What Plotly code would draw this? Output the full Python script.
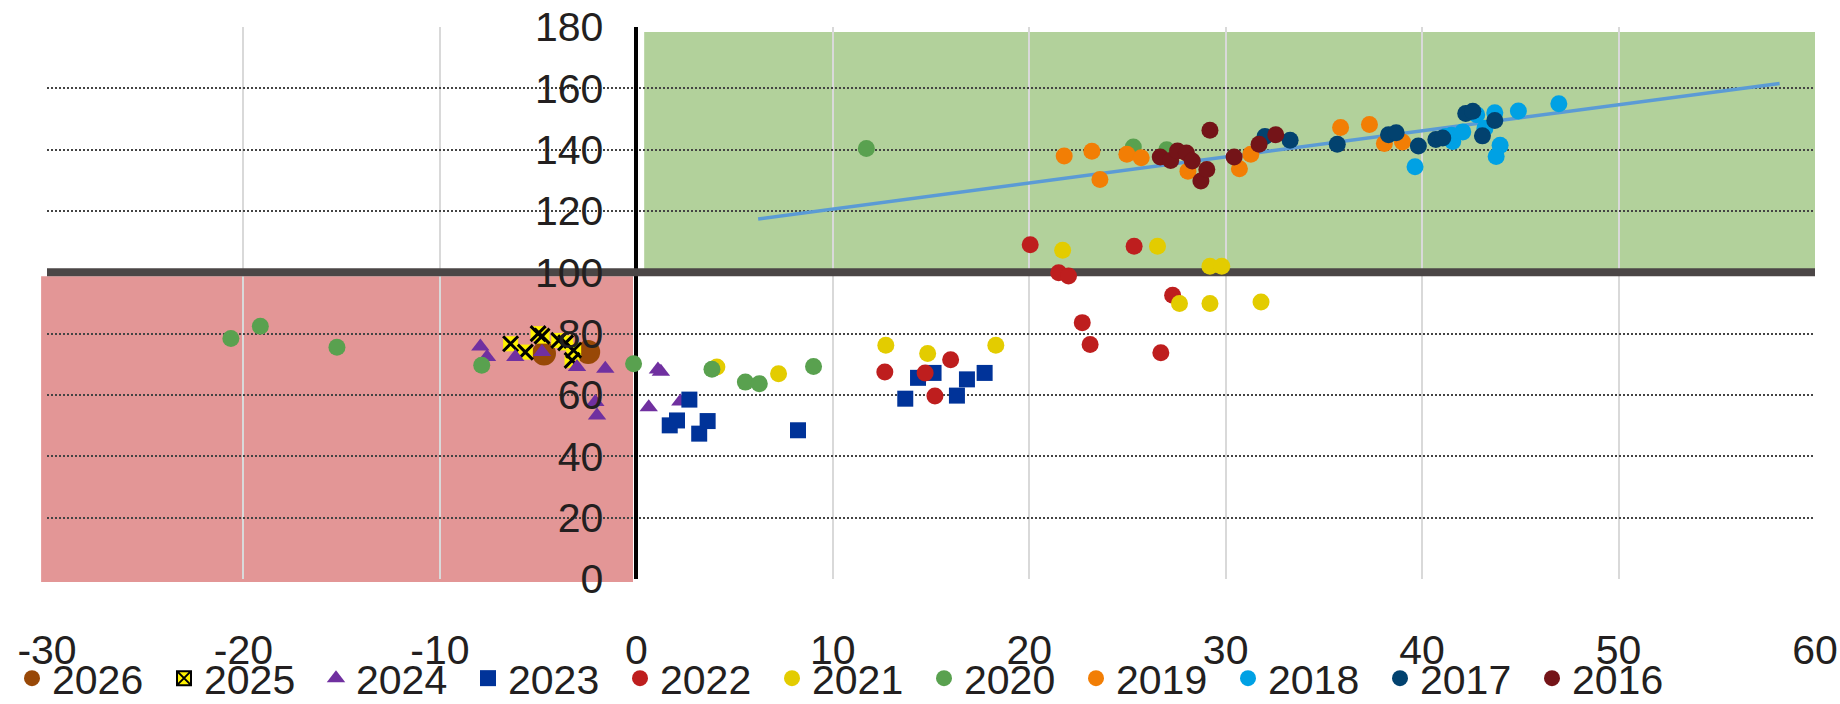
import plotly.graph_objects as go

# ---- axes -------------------------------------------------------------
x_ticks = [-30, -20, -10, 0, 10, 20, 30, 40, 50, 60]
x_tick_labels = ["-30", "-20", "-10", "0", "10", "20", "30", "40", "50", "60"]
y_ticks = [0, 20, 40, 60, 80, 100, 120, 140, 160, 180]
y_tick_labels = ["0", "20", "40", "60", "80", "100", "120", "140", "160", "180"]
X_RANGE = [-30, 60]
Y_RANGE = [0, 180]

# ---- series (x, y) per year ---------------------------------------------
x_2026 = [-4.7, -2.45]
y_2026 = [73.5, 74.0]

x_2025 = [-6.4, -5.65, -5.0, -4.8, -3.95, -3.6, -3.19, -3.27]
y_2025 = [76.7, 74.0, 80.0, 79.2, 77.8, 77.0, 74.6, 71.3]

x_2024 = [-7.94, -7.6, -6.16, -4.8, -3.02, -1.58, -2.09, -2.0, 1.1, 1.25, 0.63, 2.24]
y_2024 = [75.8, 72.4, 72.4, 74.0, 69.1, 68.6, 57.7, 53.3, 68.3, 67.6, 56.0, 57.9]

x_2023 = [1.7, 2.07, 2.7, 3.2, 3.63, 8.23, 13.69, 14.34, 15.13, 16.32, 16.83, 17.73]
y_2023 = [50.1, 51.7, 58.5, 47.4, 51.5, 48.5, 58.8, 65.6, 67.2, 59.8, 65.1, 67.2]

x_2022 = [12.65, 14.7, 15.2, 16.0, 20.05, 21.5, 22.0, 22.7, 23.1, 25.34, 26.7, 27.3]
y_2022 = [67.5, 67.2, 59.7, 71.5, 109.0, 99.9, 98.8, 83.6, 76.5, 108.5, 73.8, 92.5]

x_2021 = [4.1, 7.24, 12.7, 14.83, 18.3, 21.7, 26.53, 27.65, 29.2, 29.2, 29.8, 31.8]
y_2021 = [69.1, 66.9, 76.2, 73.5, 76.2, 107.2, 108.5, 89.8, 89.8, 102.0, 102.0, 90.3]

x_2020 = [-20.64, -19.14, -15.24, -7.87, -0.14, 3.85, 5.55, 6.26, 9.02, 11.71, 25.3, 27.0]
y_2020 = [78.4, 82.4, 75.6, 69.7, 70.2, 68.4, 64.2, 63.7, 69.3, 140.4, 140.9, 140.0]

x_2019 = [21.78, 23.19, 23.6, 24.97, 25.7, 28.08, 30.7, 31.28, 35.85, 37.32, 38.08, 39.0]
y_2019 = [137.9, 139.5, 130.3, 138.5, 137.4, 133.0, 133.8, 138.5, 147.2, 148.2, 142.0, 142.5]

x_2018 = [39.64, 41.2, 41.56, 41.5, 42.07, 42.78, 43.2, 43.7, 43.97, 43.77, 44.9, 46.96]
y_2018 = [134.4, 144.3, 142.7, 144.7, 145.8, 151.4, 147.0, 152.0, 141.4, 137.8, 152.6, 155.0]

x_2017 = [32.0, 33.28, 35.68, 38.29, 38.68, 39.81, 40.7, 41.05, 42.22, 42.58, 43.07, 43.7]
y_2017 = [144.3, 143.1, 141.8, 144.9, 145.5, 141.2, 143.3, 143.8, 151.8, 152.5, 144.5, 149.5]

x_2016 = [26.67, 27.2, 27.55, 28.0, 28.3, 28.74, 29.04, 29.2, 30.43, 31.7, 32.55]
y_2016 = [137.6, 136.5, 139.6, 138.9, 136.3, 129.8, 133.5, 146.3, 137.6, 141.8, 144.9]

# linear trend through the upper cluster
trend_x = [6.2, 58.2]
trend_y = [117.4, 161.6]

# ---- styling ------------------------------------------------------------
FONT = "Liberation Sans, Arial, sans-serif"
TEXT = "#231f20"
FS = 41

W, H = 1840, 704
ML, MR, MT, MB = 47, 0, 27, 125
PLOT_W = 1768                     # width of the data area in px
X_DOMAIN_END = PLOT_W / (W - ML - MR)

styles = {
    "2026": dict(color="#984807", symbol="circle", size=24),
    "2024": dict(color="#7030a0", symbol="triangle-up", size=16),
    "2023": dict(color="#003399", symbol="square", size=16),
    "2022": dict(color="#be1e1e", symbol="circle", size=17),
    "2021": dict(color="#e3cc00", symbol="circle", size=17),
    "2020": dict(color="#59a14f", symbol="circle", size=17),
    "2019": dict(color="#f27e05", symbol="circle", size=17),
    "2018": dict(color="#00a1e4", symbol="circle", size=17),
    "2017": dict(color="#02426f", symbol="circle", size=17),
    "2016": dict(color="#741418", symbol="circle", size=17),
}
series = {
    "2026": (x_2026, y_2026),
    "2024": (x_2024, y_2024),
    "2023": (x_2023, y_2023),
    "2022": (x_2022, y_2022),
    "2021": (x_2021, y_2021),
    "2020": (x_2020, y_2020),
    "2019": (x_2019, y_2019),
    "2018": (x_2018, y_2018),
    "2017": (x_2017, y_2017),
    "2016": (x_2016, y_2016),
}
YELLOW_X = "#fff200"

fig = go.Figure()

fig.add_trace(go.Scatter(
    x=trend_x, y=trend_y, mode="lines",
    line=dict(color="#5b9bd5", width=3.5),
    showlegend=False, hoverinfo="skip",
))


def add_year(name):
    st = styles[name]
    xs, ys = series[name]
    fig.add_trace(go.Scatter(
        x=xs, y=ys, mode="markers", name=name,
        marker=dict(color=st["color"], symbol=st["symbol"], size=st["size"],
                    line=dict(width=0)),
    ))


add_year("2026")

# 2025: yellow square with a black cross on top
fig.add_trace(go.Scatter(
    x=[None], y=[None], mode="markers", name="2025",
    marker=dict(color=YELLOW_X, symbol="square-x", size=14,
                line=dict(color="black", width=2)),
))
fig.add_trace(go.Scatter(
    x=x_2025, y=y_2025, mode="markers", showlegend=False,
    marker=dict(color=YELLOW_X, symbol="square", size=15, line=dict(width=0)),
))
fig.add_trace(go.Scatter(
    x=x_2025, y=y_2025, mode="markers", showlegend=False,
    marker=dict(symbol="x-thin", size=15, line=dict(color="black", width=3)),
))

for yr in ["2024", "2023", "2022", "2021", "2020", "2019", "2018", "2017", "2016"]:
    add_year(yr)


def px(v):
    """data x -> paper x"""
    return X_DOMAIN_END * (v - X_RANGE[0]) / (X_RANGE[1] - X_RANGE[0])


def py(v):
    """data y -> paper y"""
    return (v - Y_RANGE[0]) / (Y_RANGE[1] - Y_RANGE[0])


shapes = [
    # upper-right quadrant shading
    dict(type="rect", xref="x", yref="y", x0=0.4, x1=60, y0=100, y1=178.4,
         fillcolor="#b2d19b", line=dict(width=0), layer="below"),
    # lower-left quadrant shading
    dict(type="rect", xref="paper", yref="paper",
         x0=px(-30.3), x1=px(-0.17), y0=py(-1.0), y1=py(98.7),
         fillcolor="#e39696", line=dict(width=0), layer="below"),
    # 100 reference line
    dict(type="line", xref="x", yref="y", x0=-30, x1=60, y0=100, y1=100,
         line=dict(color="#4b4646", width=8), layer="between"),
]

fig.update_layout(
    width=W, height=H,
    margin=dict(l=ML, r=MR, t=MT, b=MB, pad=0, autoexpand=False),
    paper_bgcolor="white", plot_bgcolor="white",
    font=dict(family=FONT, size=FS, color=TEXT),
    shapes=shapes,
    showlegend=True,
    legend=dict(
        orientation="h", x=(12.0 - ML) / (W - ML - MR), xanchor="left",
        y=(H - MB - 678.5) / (H - MT - MB), yanchor="middle",
        font=dict(family=FONT, size=FS, color=TEXT),
        entrywidth=107, entrywidthmode="pixels",
        itemsizing="trace", bgcolor="rgba(0,0,0,0)", traceorder="normal",
    ),
    xaxis=dict(
        domain=[0, X_DOMAIN_END],
        range=X_RANGE, tickvals=x_ticks, ticktext=x_tick_labels,
        showgrid=True, gridcolor="#d9d9d9", gridwidth=2,
        zeroline=True, zerolinecolor="black", zerolinewidth=4,
        showline=False, ticks="", ticklabelstandoff=43,
        tickfont=dict(family=FONT, size=FS, color=TEXT),
    ),
    yaxis=dict(
        range=Y_RANGE, tickvals=y_ticks, ticktext=y_tick_labels,
        anchor="free", position=px(0), side="left",
        showgrid=True, gridcolor="#444444", gridwidth=1.6, griddash="2px,2px",
        zeroline=False, showline=False, ticks="", ticklabelstandoff=33,
        tickfont=dict(family=FONT, size=FS, color=TEXT),
    ),
)

fig.write_html("out.html")
